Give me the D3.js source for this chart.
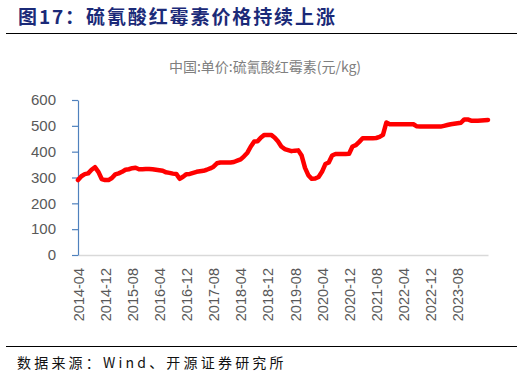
<!DOCTYPE html>
<html lang="zh">
<head>
<meta charset="UTF-8">
<title>硫氰酸红霉素价格</title>
<script src="https://cdn.jsdelivr.net/npm/d3@7/dist/d3.min.js"></script>
<style>
    body { margin: 0; background: #fff; }
    svg { display: block; }
    .y-axis text, .x-axis text { fill: #595959; font-family: Arial, "Liberation Sans", sans-serif; }
</style>
</head>
<body>
<div id="chart"></div>
<script>
// monthly price, 元/kg, 2014-04 .. 2024-05
var startMonth = "2014-04";
var prices = [
    290, 305, 313, 316, 330, 340, 322, 294, 290, 290,
    298, 312, 316, 322, 330, 332, 336, 338, 332, 332,
    333, 333, 332, 330, 328, 326, 320, 318, 315, 314,
    295, 303, 313, 314, 318, 322, 324, 326, 330, 335,
    342, 355, 358, 358, 358, 358, 360, 365, 370, 382,
    396, 420, 439, 440, 455, 465, 465, 465, 455, 440,
    420, 410, 406, 402, 404, 405, 385, 337, 308, 295,
    296, 302, 322, 352, 358, 385, 391, 391, 391, 391,
    392, 420, 425, 438, 452, 452, 452, 452, 453, 457,
    465, 513, 506, 506, 506, 506, 506, 506, 506, 506,
    498, 497, 497, 497, 497, 497, 497, 497, 500, 503,
    506, 508, 510, 512, 525, 525, 520, 520, 520, 521,
    522, 523
];
var xTickLabels = ["2014-04", "2014-12", "2015-08", "2016-04", "2016-12", "2017-08",
    "2018-04", "2018-12", "2019-08", "2020-04", "2020-12", "2021-08",
    "2022-04", "2022-12", "2023-08"];
var yTicks = [0, 100, 200, 300, 400, 500, 600];

var W = 527, H = 376;
var margin = {top: 100, right: 39, bottom: 121, left: 78};

var fmt = d3.timeFormat("%Y-%m");
var parse = d3.timeParse("%Y-%m");
var t0 = parse(startMonth);
var months = prices.map(function(d, i) { return fmt(d3.timeMonth.offset(t0, i)); });
var data = prices.map(function(p, i) { return {m: months[i], v: p}; });

var svg = d3.select("#chart").append("svg")
    .attr("width", W)
    .attr("height", H);

// header
svg.append("text")
    .attr("x", 18).attr("y", 24)
    .style("font-family", "'Noto Sans CJK SC', sans-serif")
    .style("font-weight", "bold")
    .style("font-size", "19px")
    .style("letter-spacing", "1.9px")
    .style("fill", "#1b2a78")
    .text("图17：硫氰酸红霉素价格持续上涨");

svg.append("line")
    .attr("x1", 6).attr("x2", 517).attr("y1", 33.5).attr("y2", 33.5)
    .style("stroke", "#000").style("stroke-width", 1);

svg.append("line")
    .attr("x1", 6).attr("x2", 517).attr("y1", 346.5).attr("y2", 346.5)
    .style("stroke", "#000").style("stroke-width", 1);

svg.append("text")
    .attr("x", 17).attr("y", 368)
    .style("font-family", "'Noto Sans CJK SC', sans-serif")
    .style("font-size", "14px")
    .style("letter-spacing", "3.2px")
    .style("fill", "#111")
    .text("数据来源：Wind、开源证券研究所");

// chart title
svg.append("text")
    .attr("x", 265).attr("y", 72)
    .attr("text-anchor", "middle")
    .style("font-family", "'Noto Sans CJK SC', sans-serif")
    .style("font-size", "14px")
    .style("fill", "#808080")
    .text("中国:单价:硫氰酸红霉素(元/kg)");

var x = d3.scalePoint()
    .domain(months)
    .range([margin.left, W - margin.right])
    .padding(0);

var y = d3.scaleLinear()
    .domain([0, 600])
    .range([H - margin.bottom, margin.top]);

// x axis
var gx = svg.append("g")
    .attr("class", "x-axis")
    .attr("transform", "translate(0," + y(0) + ")")
    .call(d3.axisBottom(x).tickValues(xTickLabels).tickSize(0).tickPadding(0));
gx.select(".domain").style("stroke", "#d9d9d9").style("stroke-width", 1.5);
gx.selectAll("text")
    .style("font-size", "14.5px")
    .attr("transform", "rotate(-90)")
    .attr("text-anchor", "end")
    .attr("x", -13)
    .attr("y", 0)
    .attr("dy", "0.36em");

// y axis
var gy = svg.append("g")
    .attr("class", "y-axis")
    .attr("transform", "translate(" + margin.left + ",0)")
    .call(d3.axisLeft(y).tickValues(yTicks).tickSize(6).tickPadding(16).tickSizeOuter(0));
gy.select(".domain").style("stroke", "#4f81bd").style("stroke-width", 1.2);
gy.selectAll(".tick line").style("stroke", "#4f81bd").style("stroke-width", 1.2);
gy.selectAll("text").style("font-size", "15px");

// line
var line = d3.line()
    .x(function(d) { return x(d.m); })
    .y(function(d) { return y(d.v); });

svg.append("path")
    .datum(data)
    .attr("d", line)
    .style("fill", "none")
    .style("stroke", "#ff0000")
    .style("stroke-width", 4.5)
    .style("stroke-linejoin", "round")
    .style("stroke-linecap", "round");
</script>
</body>
</html>
